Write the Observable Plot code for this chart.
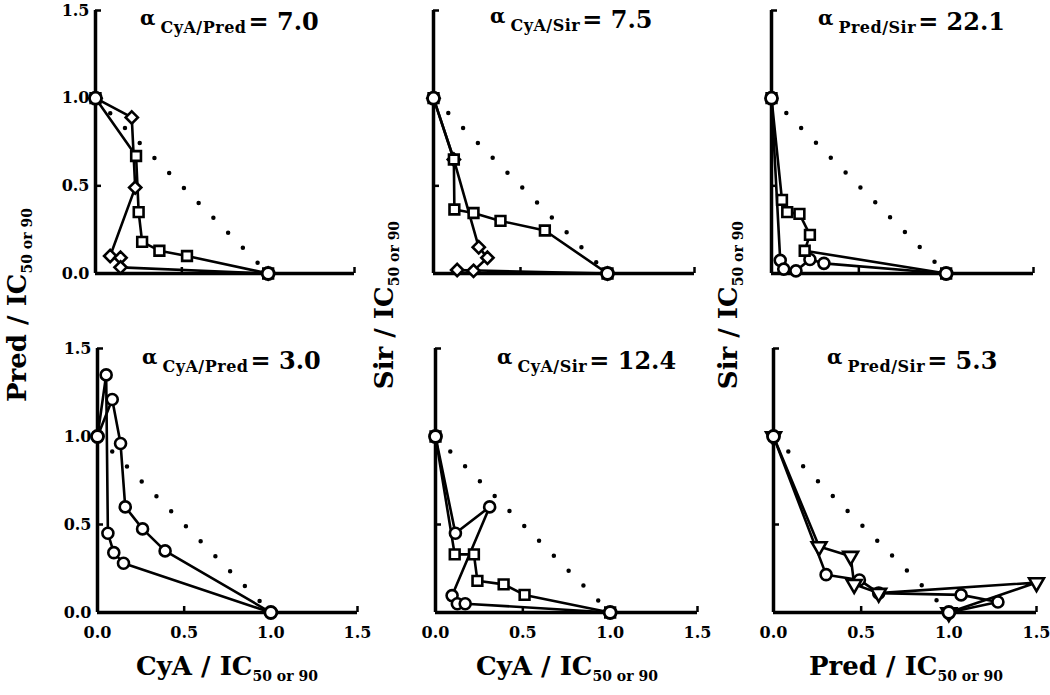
<!DOCTYPE html>
<html><head><meta charset="utf-8">
<script src="https://cdn.jsdelivr.net/npm/d3@7"></script>
<script src="https://cdn.jsdelivr.net/npm/@observablehq/plot@0.6"></script>
<style>
body{margin:0;background:#fff;}
#root{position:relative;width:1050px;height:695px;overflow:hidden;background:#fff;font-family:"DejaVu Serif",serif;font-weight:bold;color:#000;}
.panel{position:absolute;}
.panel svg{overflow:visible;}
.ttl{position:absolute;white-space:nowrap;line-height:1;font-size:24px;}
.ttl .a{font-size:20px;position:relative;top:-5px;margin-right:5px;}
.ttl .s{font-size:16px;position:relative;top:3px;margin-right:2px;letter-spacing:0.5px;}
.ax{position:absolute;white-space:nowrap;line-height:1;font-size:26px;transform:translate(-50%,-50%);}
.ax.rot{transform:translate(-50%,-50%) rotate(-90deg);}
.ax .s{font-size:14px;position:relative;top:6px;}
</style></head><body><div id="root"></div>
<script>
// ---- data ----
const tickValues = [0, 0.5, 1.0, 1.5];
const additive = [[0, 1], [1, 0]];
const endpoints = [[0, 1], [1, 0]];

const alphaPairs = ["CyA/Pred", "CyA/Sir", "Pred/Sir", "CyA/Pred", "CyA/Sir", "Pred/Sir"];
const alphaValues = ["7.0", "7.5", "22.1", "3.0", "12.4", "5.3"];
const xDrugs = ["CyA", "CyA", "Pred"];
const yDrugs = ["Pred", "Sir", "Sir"];

// Panel 1: CyA / Pred (alpha 7.0)
const p1Diamond = [[0,1],[0.21,0.89],[0.23,0.49],[0.085,0.10],[0.145,0.09],[0.145,0.035],[1,0]];
const p1Square  = [[0,1],[0.235,0.67],[0.25,0.35],[0.27,0.18],[0.37,0.13],[0.53,0.10],[1,0]];
// Panel 2: CyA / Sir (alpha 7.5)
const p2Diamond = [[0,1],[0.117,0.65],[0.26,0.15],[0.31,0.09],[0.23,0.015],[0.136,0.02],[1,0]];
const p2Square  = [[0,1],[0.117,0.65],[0.12,0.365],[0.23,0.345],[0.385,0.30],[0.64,0.245],[1,0]];
// Panel 3: Pred / Sir (alpha 22.1)
const p3Circle  = [[0,1],[0.05,0.075],[0.07,0.025],[0.14,0.015],[0.22,0.08],[0.30,0.058],[1,0]];
const p3Square  = [[0,1],[0.06,0.42],[0.09,0.35],[0.16,0.34],[0.22,0.22],[0.19,0.13],[1,0]];
// Panel 4: CyA / Pred (alpha 3.0)
const p4Upper   = [[0,1],[0.085,1.21],[0.133,0.96],[0.16,0.60],[0.26,0.475],[0.39,0.35],[1,0]];
const p4Lower   = [[0,1],[0.05,1.35],[0.06,0.45],[0.094,0.34],[0.15,0.28],[1,0]];
// Panel 5: CyA / Sir (alpha 12.4)
const p5Circle  = [[0,1],[0.114,0.45],[0.31,0.60],[0.095,0.096],[0.125,0.05],[0.17,0.05],[1,0]];
const p5Square  = [[0,1],[0.11,0.33],[0.22,0.33],[0.24,0.18],[0.39,0.16],[0.51,0.10],[1,0]];
// Panel 6: Pred / Sir (alpha 5.3)
const p6Circle  = [[0,1],[0.30,0.215],[0.49,0.185],[0.60,0.11],[1.07,0.10],[1.28,0.06],[1,0]];
const p6Triangle= [[0,1],[0.26,0.375],[0.44,0.32],[0.46,0.16],[0.60,0.11],[1.50,0.17],[1,0]];

// ---- layout ----
const panels = [
  {left:0,   top:0,   width:380, height:300, mL:95, mR:26, mT:10, mB:27, xl:false, yl:true,  tx:140, ty:10,
   series:[{pts:p1Square,symbol:"square"},{pts:p1Diamond,symbol:"diamond2"}]},
  {left:380, top:0,   width:330, height:300, mL:53, mR:16, mT:10, mB:27, xl:false, yl:false, tx:490, ty:8,
   series:[{pts:p2Diamond,symbol:"diamond2"},{pts:p2Square,symbol:"square"}]},
  {left:710, top:0,   width:340, height:300, mL:61, mR:17, mT:10, mB:27, xl:false, yl:false, tx:818, ty:10,
   series:[{pts:p3Circle,symbol:"circle"},{pts:p3Square,symbol:"square"}]},
  {left:0,   top:330, width:380, height:330, mL:97, mR:23, mT:18, mB:48, xl:true,  yl:true,  tx:142, ty:349,
   series:[{pts:p4Upper,symbol:"circle"},{pts:p4Lower,symbol:"circle"}]},
  {left:380, top:330, width:330, height:330, mL:55, mR:13, mT:18, mB:48, xl:true,  yl:false, tx:497, ty:349,
   series:[{pts:p5Circle,symbol:"circle"},{pts:p5Square,symbol:"square"}]},
  {left:710, top:330, width:340, height:330, mL:63, mR:14, mT:18, mB:48, xl:true,  yl:false, tx:827, ty:349,
   series:[{pts:p6Circle,symbol:"circle"},{pts:p6Triangle,symbol:"triangle",rotate:180}]}
];

const root = document.getElementById("root");
const fmt = d3.format(".1f");
const px = d => d[0], py = d => d[1];

panels.forEach((p, i) => {
  const marks = [
    Plot.line(additive, {x: px, y: py, strokeDasharray: "0 21", strokeWidth: 4.5, strokeLinecap: "round"}),
    Plot.ruleY([0], {strokeWidth: 3.5}),
    Plot.ruleX([0], {strokeWidth: 3.5}),
    Plot.axisX([0.5, 1.5], {tickSize: -6, strokeWidth: 2.5, tickFormat: () => "", label: null}),
    Plot.axisY([0.5, 1.5], {tickSize: -6, strokeWidth: 2.5, tickFormat: () => "", label: null})
  ];
  if (p.xl) marks.push(Plot.axisX(tickValues, {tickSize: 0, tickPadding: 14, tickFormat: fmt, fontSize: 16, fontWeight: "bold", label: null}));
  if (p.yl) marks.push(Plot.axisY(tickValues, {tickSize: 0, tickPadding: 6, tickFormat: fmt, fontSize: 16, fontWeight: "bold", label: null}));
  p.series.forEach(s => marks.push(Plot.line(s.pts, {x: px, y: py, stroke: "black", strokeWidth: 2.6})));
  p.series.forEach(s => marks.push(Plot.dot(s.pts, {x: px, y: py, symbol: s.symbol, rotate: s.rotate || 0, r: 5.5, fill: "white", stroke: "black", strokeWidth: 2.6})));
  marks.push(Plot.dot(endpoints, {x: px, y: py, symbol: "circle", r: 6, fill: "white", stroke: "black", strokeWidth: 2.8}));

  const svg = Plot.plot({
    width: p.width, height: p.height,
    marginLeft: p.mL, marginRight: p.mR, marginTop: p.mT, marginBottom: p.mB,
    x: {domain: [0, 1.5]}, y: {domain: [0, 1.5]},
    style: {fontFamily: "DejaVu Serif", fontWeight: "bold", fontSize: "16px", color: "black", background: "transparent", overflow: "visible"},
    marks
  });
  const wrap = document.createElement("div");
  wrap.className = "panel";
  wrap.style.left = p.left + "px"; wrap.style.top = p.top + "px";
  wrap.appendChild(svg);
  root.appendChild(wrap);

  const t = document.createElement("div");
  t.className = "ttl";
  t.style.left = p.tx + "px"; t.style.top = p.ty + "px";
  t.innerHTML = `<span class="a">α</span><span class="s">${alphaPairs[i]}</span><span>= ${alphaValues[i]}</span>`;
  root.appendChild(t);
});

// axis titles
const xCenters = [227, 567, 906];
xDrugs.forEach((d, i) => {
  const e = document.createElement("div");
  e.className = "ax";
  e.style.left = xCenters[i] + "px"; e.style.top = "666px";
  e.innerHTML = `${d} / IC<span class="s">50 or 90</span>`;
  root.appendChild(e);
});
const yCenters = [17, 384, 728];
yDrugs.forEach((d, i) => {
  const e = document.createElement("div");
  e.className = "ax rot";
  e.style.left = yCenters[i] + "px"; e.style.top = "305px";
  e.innerHTML = `${d} / IC<span class="s">50 or 90</span>`;
  root.appendChild(e);
});
</script></body></html>
